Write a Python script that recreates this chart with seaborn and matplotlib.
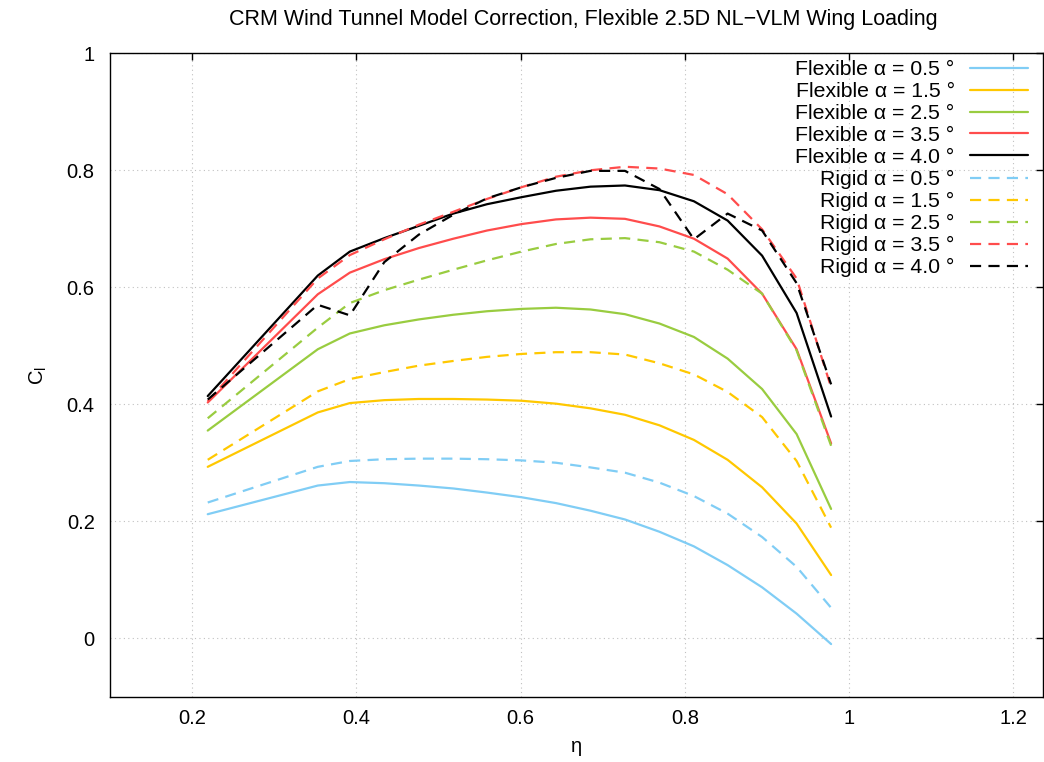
import numpy as np
import pandas as pd
import seaborn as sns
import matplotlib
matplotlib.use("Agg")
import matplotlib.pyplot as plt
from matplotlib.ticker import FuncFormatter

# ---------------- data ----------------
eta = [0.219, 0.353, 0.392, 0.434, 0.476, 0.518, 0.559, 0.601, 0.643,
       0.685, 0.727, 0.769, 0.811, 0.852, 0.894, 0.936, 0.978]

flex_05 = [0.212, 0.261, 0.267, 0.265, 0.261, 0.256, 0.249, 0.241, 0.231,
           0.218, 0.203, 0.182, 0.157, 0.125, 0.087, 0.042, -0.010]
flex_15 = [0.293, 0.386, 0.402, 0.407, 0.409, 0.409, 0.408, 0.406, 0.401,
           0.393, 0.382, 0.364, 0.339, 0.305, 0.258, 0.196, 0.108]
flex_25 = [0.355, 0.494, 0.521, 0.535, 0.545, 0.553, 0.559, 0.563, 0.565,
           0.562, 0.554, 0.538, 0.515, 0.478, 0.426, 0.349, 0.221]
flex_35 = [0.403, 0.588, 0.625, 0.648, 0.667, 0.683, 0.697, 0.708, 0.716,
           0.719, 0.717, 0.704, 0.683, 0.649, 0.589, 0.494, 0.333]
flex_40 = [0.414, 0.620, 0.661, 0.684, 0.705, 0.726, 0.742, 0.754, 0.765,
           0.772, 0.774, 0.766, 0.747, 0.714, 0.654, 0.556, 0.379]

rigid_05 = [0.232, 0.293, 0.303, 0.306, 0.307, 0.307, 0.306, 0.304, 0.300,
            0.292, 0.283, 0.266, 0.243, 0.213, 0.173, 0.122, 0.052]
rigid_15 = [0.305, 0.422, 0.443, 0.455, 0.466, 0.474, 0.481, 0.486, 0.489,
            0.489, 0.485, 0.470, 0.451, 0.421, 0.378, 0.303, 0.189]
rigid_25 = [0.376, 0.531, 0.573, 0.595, 0.613, 0.630, 0.646, 0.661, 0.674,
            0.682, 0.684, 0.677, 0.661, 0.630, 0.589, 0.492, 0.329]
rigid_35 = [0.405, 0.615, 0.655, 0.682, 0.707, 0.729, 0.751, 0.771, 0.789,
            0.800, 0.806, 0.803, 0.792, 0.759, 0.699, 0.615, 0.429]
rigid_40 = [0.408, 0.570, 0.552, 0.643, 0.690, 0.724, 0.752, 0.771, 0.787,
            0.799, 0.799, 0.768, 0.682, 0.726, 0.697, 0.607, 0.434]

series_labels = ["Flexible α = 0.5 °", "Flexible α = 1.5 °", "Flexible α = 2.5 °",
                 "Flexible α = 3.5 °", "Flexible α = 4.0 °",
                 "Rigid α = 0.5 °", "Rigid α = 1.5 °", "Rigid α = 2.5 °",
                 "Rigid α = 3.5 °", "Rigid α = 4.0 °"]
series_values = [flex_05, flex_15, flex_25, flex_35, flex_40,
                 rigid_05, rigid_15, rigid_25, rigid_35, rigid_40]

x_ticks = [0.2, 0.4, 0.6, 0.8, 1.0, 1.2]
y_ticks = [0, 0.2, 0.4, 0.6, 0.8, 1.0]

title = "CRM Wind Tunnel Model Correction, Flexible 2.5D NL−VLM Wing Loading"

# ---------------- style ----------------
sns.set_theme(style="white")
plt.rcParams["font.family"] = ["Liberation Sans", "DejaVu Sans"]
plt.rcParams["mathtext.fontset"] = "custom"
plt.rcParams["mathtext.rm"] = "Liberation Sans"
plt.rcParams["mathtext.it"] = "Liberation Sans"
plt.rcParams["text.color"] = "black"
plt.rcParams["axes.labelcolor"] = "black"
plt.rcParams["xtick.color"] = "black"
plt.rcParams["ytick.color"] = "black"

colors = ["#80CDF5", "#FFC800", "#99CC40", "#FF4C4C", "#000000"] * 2
FS = 14.5

fig = plt.figure(figsize=(10.44, 7.62), dpi=100)
W, H = 1044, 762
L, R, T, B = 110, 1043, 53.3, 696.7
ax = fig.add_axes([L / W, 1 - B / H, (R - L) / W, (B - T) / H])

for i, (lab, vals) in enumerate(zip(series_labels, series_values)):
    dashed = lab.startswith("Rigid")
    line_ax = sns.lineplot(x=eta, y=vals, ax=ax, color=colors[i], lw=1.6,
                           label=lab, sort=False, estimator=None)
    ln = line_ax.get_lines()[-1]
    if dashed:
        ln.set_dashes((5.0, 3.3))

ax.set_xlim(0.1, 1.236)
ax.set_ylim(-0.1, 1.0)
ax.set_xticks(x_ticks)
ax.set_yticks(y_ticks)
fmt = FuncFormatter(lambda v, p: f"{v:g}")
ax.xaxis.set_major_formatter(fmt)
ax.yaxis.set_major_formatter(fmt)
ax.tick_params(direction="in", length=5, width=1, top=True, right=True,
               labelsize=FS, colors="black", pad=9)
ax.tick_params(axis="y", pad=11)
for s in ax.spines.values():
    s.set_visible(True)
    s.set_color("black")
    s.set_linewidth(1.0)
ax.grid(True, color="#c0c0c0", linestyle=(0, (1, 3)), linewidth=0.8)

ax.set_xlabel("η", fontsize=FS, labelpad=6, color="black")
ax.set_ylabel(r"C$_\mathregular{l}$", fontsize=FS, labelpad=13, color="black")

fig.text(583 / W, 1 - 19 / H, title, ha="center", va="center", fontsize=15.5,
         color="black")

leg = ax.legend(loc="upper right", bbox_to_anchor=((1028 - L) / (R - L), (B - 60) / (B - T)),
                frameon=False, markerfirst=False, fontsize=15.3, handlelength=2.75,
                handletextpad=0.7, labelspacing=0.14, borderpad=0, borderaxespad=0,
                labelcolor="black")

fig.savefig("out.png", dpi=100)
